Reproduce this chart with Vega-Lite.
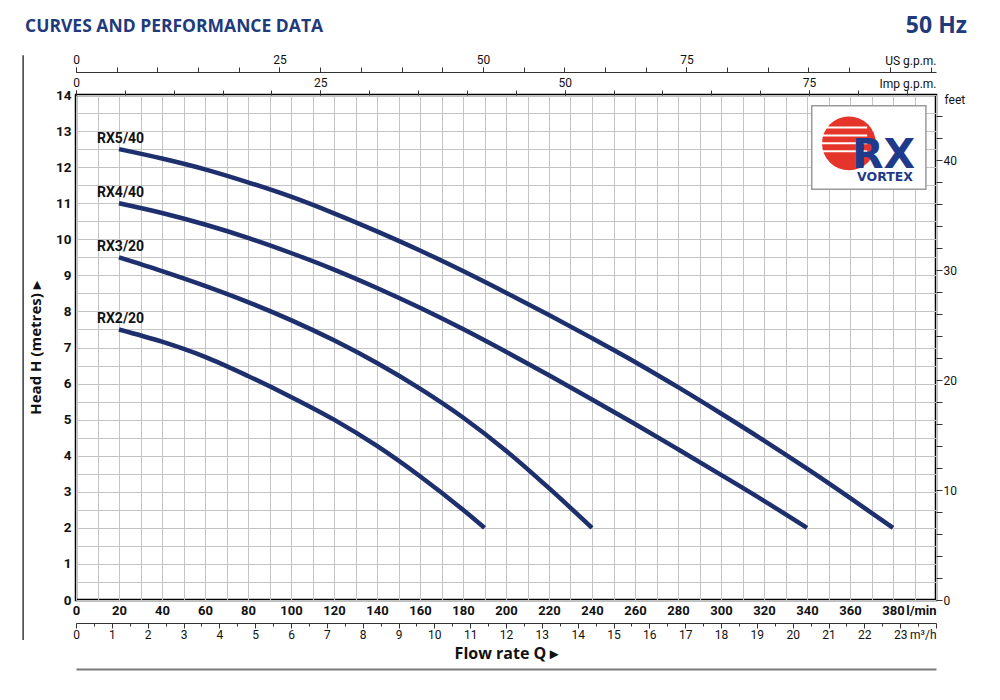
{
  "$schema": "https://vega.github.io/schema/vega-lite/v6.json",
  "width": 860,
  "height": 505,
  "autosize": {"type": "none"},
  "padding": {"left": 76, "top": 95, "right": 64, "bottom": 100},
  "background": "white",
  "config": {
    "view": {"stroke": "black", "strokeWidth": 2.5},
    "font": "Roboto",
    "axis": {"labelColor": "#111", "titleColor": "#111", "labelFont": "Roboto", "titleFont": "Open Sans"}
  },
  "datasets": {
    "curves": [
      {"model": "RX5/40", "Q": 20, "H": 12.5}, {"model": "RX5/40", "Q": 40, "H": 12.24}, {"model": "RX5/40", "Q": 60, "H": 11.94}, {"model": "RX5/40", "Q": 80, "H": 11.58}, {"model": "RX5/40", "Q": 100, "H": 11.18}, {"model": "RX5/40", "Q": 120, "H": 10.72}, {"model": "RX5/40", "Q": 140, "H": 10.22}, {"model": "RX5/40", "Q": 160, "H": 9.69}, {"model": "RX5/40", "Q": 180, "H": 9.12}, {"model": "RX5/40", "Q": 200, "H": 8.52}, {"model": "RX5/40", "Q": 220, "H": 7.9}, {"model": "RX5/40", "Q": 240, "H": 7.26}, {"model": "RX5/40", "Q": 260, "H": 6.6}, {"model": "RX5/40", "Q": 280, "H": 5.9}, {"model": "RX5/40", "Q": 300, "H": 5.17}, {"model": "RX5/40", "Q": 320, "H": 4.42}, {"model": "RX5/40", "Q": 340, "H": 3.64}, {"model": "RX5/40", "Q": 360, "H": 2.83}, {"model": "RX5/40", "Q": 380, "H": 2.0},
      {"model": "RX4/40", "Q": 20, "H": 11.0}, {"model": "RX4/40", "Q": 40, "H": 10.73}, {"model": "RX4/40", "Q": 60, "H": 10.41}, {"model": "RX4/40", "Q": 80, "H": 10.04}, {"model": "RX4/40", "Q": 100, "H": 9.62}, {"model": "RX4/40", "Q": 120, "H": 9.16}, {"model": "RX4/40", "Q": 140, "H": 8.65}, {"model": "RX4/40", "Q": 160, "H": 8.1}, {"model": "RX4/40", "Q": 180, "H": 7.51}, {"model": "RX4/40", "Q": 200, "H": 6.88}, {"model": "RX4/40", "Q": 220, "H": 6.23}, {"model": "RX4/40", "Q": 240, "H": 5.56}, {"model": "RX4/40", "Q": 260, "H": 4.88}, {"model": "RX4/40", "Q": 280, "H": 4.18}, {"model": "RX4/40", "Q": 300, "H": 3.47}, {"model": "RX4/40", "Q": 320, "H": 2.75}, {"model": "RX4/40", "Q": 340, "H": 2.0},
      {"model": "RX3/20", "Q": 20, "H": 9.5}, {"model": "RX3/20", "Q": 40, "H": 9.12}, {"model": "RX3/20", "Q": 60, "H": 8.71}, {"model": "RX3/20", "Q": 80, "H": 8.26}, {"model": "RX3/20", "Q": 100, "H": 7.76}, {"model": "RX3/20", "Q": 120, "H": 7.2}, {"model": "RX3/20", "Q": 140, "H": 6.57}, {"model": "RX3/20", "Q": 160, "H": 5.86}, {"model": "RX3/20", "Q": 180, "H": 5.06}, {"model": "RX3/20", "Q": 200, "H": 4.14}, {"model": "RX3/20", "Q": 220, "H": 3.1}, {"model": "RX3/20", "Q": 240, "H": 2.0},
      {"model": "RX2/20", "Q": 20, "H": 7.5}, {"model": "RX2/20", "Q": 40, "H": 7.16}, {"model": "RX2/20", "Q": 60, "H": 6.74}, {"model": "RX2/20", "Q": 80, "H": 6.21}, {"model": "RX2/20", "Q": 100, "H": 5.63}, {"model": "RX2/20", "Q": 120, "H": 5.0}, {"model": "RX2/20", "Q": 140, "H": 4.27}, {"model": "RX2/20", "Q": 160, "H": 3.43}, {"model": "RX2/20", "Q": 180, "H": 2.5}, {"model": "RX2/20", "Q": 190, "H": 2.0}
    ]
  },
  "layer": [
    {
      "data": {"values": [{}]},
      "mark": {"type": "point", "opacity": 0},
      "encoding": {
        "x": {"datum": 0, "type": "quantitative", "scale": {"domain": [0, 400], "nice": false, "zero": false},
          "axis": {"orient": "bottom", "values": [0,10,20,30,40,50,60,70,80,90,100,110,120,130,140,150,160,170,180,190,200,210,220,230,240,250,260,270,280,290,300,310,320,330,340,350,360,370,380,390,400],
            "grid": true, "gridColor": "#c4c4c4", "gridWidth": 1, "labels": false, "ticks": false, "domain": false, "title": null}
        }
      }
    },
    {
      "data": {"values": [{}]},
      "mark": {"type": "point", "opacity": 0},
      "encoding": {
        "y": {"datum": 0, "type": "quantitative", "scale": {"domain": [0, 14], "nice": false, "zero": false},
          "axis": {"orient": "left", "values": [0,0.5,1,1.5,2,2.5,3,3.5,4,4.5,5,5.5,6,6.5,7,7.5,8,8.5,9,9.5,10,10.5,11,11.5,12,12.5,13,13.5,14],
            "grid": true, "gridColor": "#c4c4c4", "gridWidth": 1, "labels": false, "ticks": false, "domain": false, "title": null}
        }
      }
    },
    {
      "data": {"name": "curves"},
      "encoding": {
        "x": {"field": "Q", "type": "quantitative", "scale": {"domain": [0, 400], "nice": false, "zero": false},
          "axis": {
            "orient": "bottom",
            "values": [0,20,40,60,80,100,120,140,160,180,200,220,240,260,280,300,320,340,360,380,400],
            "labelExpr": "datum.value == 400 ? 'l/min' : '' + datum.value",
            "labelAlign": {"condition": {"test": "datum.value == 400", "value": "right"}, "value": "center"},
            "ticks": false, "domain": false, "grid": false,
            "labelFontWeight": "bold", "labelFontSize": 13, "labelPadding": 4, "labelFlush": false, "labelOverlap": false,
            "title": null
          }
        },
        "y": {"field": "H", "type": "quantitative", "scale": {"domain": [0, 14], "nice": false},
          "axis": {
            "orient": "left",
            "values": [0,1,2,3,4,5,6,7,8,9,10,11,12,13,14],
            "ticks": false, "domain": false, "grid": false,
            "labelFontWeight": "bold", "labelFontSize": 13.5, "labelPadding": 5, "labelFlush": false, "labelOverlap": false,
            "title": "Head H (metres) ▸", "titleFontSize": 15, "titleFontWeight": "bold", "titlePadding": 12
          }
        }
      },
      "layer": [
        {
          "transform": [{"filter": "datum.Q == 20 && datum.model == 'RX5/40'"}],
          "mark": {"type": "rect", "fill": "white", "stroke": "#9a9a9a", "strokeWidth": 1.5},
          "encoding": {"x": {"datum": 342.2}, "x2": {"datum": 395.3}, "y": {"datum": 13.7}, "y2": {"datum": 11.39}}
        },
        {
          "transform": [{"filter": "datum.Q == 20 && datum.model == 'RX5/40'"}],
          "mark": {"type": "point", "shape": "circle", "filled": true, "color": "#e5352b", "opacity": 1, "size": 2900},
          "encoding": {"x": {"datum": 359.5}, "y": {"datum": 12.66}}
        },
        {
          "transform": [{"filter": "datum.Q == 20 && datum.model == 'RX5/40'"}],
          "mark": {"type": "rule", "color": "white", "strokeWidth": 2},
          "encoding": {"x": {"datum": 345.5}, "x2": {"datum": 368}, "y": {"datum": 13.1}}
        },
        {
          "transform": [{"filter": "datum.Q == 20 && datum.model == 'RX5/40'"}],
          "mark": {"type": "rule", "color": "white", "strokeWidth": 2},
          "encoding": {"x": {"datum": 345}, "x2": {"datum": 368}, "y": {"datum": 12.88}}
        },
        {
          "transform": [{"filter": "datum.Q == 20 && datum.model == 'RX5/40'"}],
          "mark": {"type": "rule", "color": "white", "strokeWidth": 2},
          "encoding": {"x": {"datum": 345}, "x2": {"datum": 368}, "y": {"datum": 12.66}}
        },
        {
          "transform": [{"filter": "datum.Q == 20 && datum.model == 'RX5/40'"}],
          "mark": {"type": "rule", "color": "white", "strokeWidth": 2},
          "encoding": {"x": {"datum": 345.5}, "x2": {"datum": 368}, "y": {"datum": 12.44}}
        },
        {
          "transform": [{"filter": "datum.Q == 20 && datum.model == 'RX5/40'"}],
          "mark": {"type": "text", "text": "RX", "font": "DejaVu Sans", "fontSize": 41, "fontWeight": "bold", "color": "#1f3a8a", "align": "center", "baseline": "middle"},
          "encoding": {"x": {"datum": 375.6}, "y": {"datum": 12.3}}
        },
        {
          "transform": [{"filter": "datum.Q == 20 && datum.model == 'RX5/40'"}],
          "mark": {"type": "text", "text": "VORTEX", "font": "DejaVu Sans", "fontSize": 12.5, "fontWeight": "bold", "color": "#1f3a8a", "align": "center", "baseline": "middle"},
          "encoding": {"x": {"datum": 376.3}, "y": {"datum": 11.72}}
        },
        {
          "mark": {"type": "line", "color": "#1e2f6e", "strokeWidth": 4.5, "interpolate": "monotone", "strokeCap": "butt"},
          "encoding": {"detail": {"field": "model"}}
        },
        {
          "transform": [{"filter": "datum.Q == 20"}],
          "mark": {"type": "text", "align": "left", "baseline": "middle", "dx": -22, "dy": -10.5, "font": "Roboto", "fontSize": 14, "fontWeight": "bold", "color": "#111"},
          "encoding": {"text": {"field": "model"}}
        },
        {
          "transform": [{"filter": "datum.Q == 20 && datum.model == 'RX5/40'"}],
          "mark": {"type": "text", "text": "CURVES AND PERFORMANCE DATA", "font": "Open Sans", "fontSize": 17.5, "fontWeight": "bold", "color": "#203a7c", "align": "left", "baseline": "middle"},
          "encoding": {"x": {"datum": -23.7}, "y": {"datum": 15.89}}
        },
        {
          "transform": [{"filter": "datum.Q == 20 && datum.model == 'RX5/40'"}],
          "mark": {"type": "text", "text": "50 Hz", "font": "Open Sans", "fontSize": 23, "fontWeight": "bold", "color": "#203a7c", "align": "right", "baseline": "middle"},
          "encoding": {"x": {"datum": 414.4}, "y": {"datum": 15.92}}
        },
        {
          "transform": [{"filter": "datum.Q == 20 && datum.model == 'RX5/40'"}],
          "mark": {"type": "rule", "color": "#444", "strokeWidth": 1.6},
          "encoding": {"x": {"datum": -24.6}, "y": {"datum": 15.1}, "y2": {"datum": -1.11}}
        }
      ]
    },
    {
      "data": {"values": [{}]},
      "mark": {"type": "point", "opacity": 0},
      "encoding": {
        "x": {"datum": 0, "type": "quantitative", "scale": {"domain": [0, 87.988], "nice": false, "zero": false},
          "axis": {"orient": "top", "offset": 0, "values": [0,5,10,15,20,25,30,35,40,45,50,55,60,65,70,75,80,85],
            "labels": false, "tickSize": 5, "tickColor": "#333", "tickWidth": 1, "domain": false, "grid": false, "title": null}
        }
      }
    },
    {
      "data": {"values": [{}]},
      "mark": {"type": "point", "opacity": 0},
      "encoding": {
        "x": {"datum": 0, "type": "quantitative", "scale": {"domain": [0, 87.988], "nice": false, "zero": false},
          "axis": {"orient": "top", "offset": 0, "values": [0,25,50,75],
            "tickSize": 5, "tickColor": "#333", "tickWidth": 1,
            "domain": false, "grid": false, "labelFontSize": 12, "labelPadding": 1, "labelFlush": false, "labelOverlap": false,
            "title": "Imp g.p.m.", "titleX": 860, "titleY": -12, "titleAlign": "right", "titleBaseline": "middle", "titleAngle": 0,
            "titleFontWeight": "normal", "titleFontSize": 12, "titleFont": "Roboto"}
        }
      }
    },
    {
      "data": {"values": [{}]},
      "mark": {"type": "point", "opacity": 0},
      "encoding": {
        "x": {"datum": 0, "type": "quantitative", "scale": {"domain": [0, 105.669], "nice": false, "zero": false},
          "axis": {"orient": "top", "offset": 23, "values": [0,5,10,15,20,25,30,35,40,45,50,55,60,65,70,75,80,85,90,95,100,105],
            "labels": false, "tickSize": 5, "tickColor": "#333", "tickWidth": 1, "domain": false, "grid": false, "title": null}
        }
      }
    },
    {
      "data": {"values": [{}]},
      "mark": {"type": "point", "opacity": 0},
      "encoding": {
        "x": {"datum": 0, "type": "quantitative", "scale": {"domain": [0, 105.669], "nice": false, "zero": false},
          "axis": {"orient": "top", "offset": 23, "values": [0,25,50,75],
            "tickSize": 5, "tickColor": "#333", "tickWidth": 1,
            "domain": true, "domainColor": "#333", "domainWidth": 1, "grid": false, "labelFontSize": 12, "labelPadding": 1, "labelFlush": false, "labelOverlap": false,
            "title": "US g.p.m.", "titleX": 860, "titleY": -12, "titleAlign": "right", "titleBaseline": "middle", "titleAngle": 0,
            "titleFontWeight": "normal", "titleFontSize": 12, "titleFont": "Roboto"}
        }
      }
    },
    {
      "data": {"values": [{}]},
      "mark": {"type": "point", "opacity": 0},
      "encoding": {
        "x": {"datum": 0, "type": "quantitative", "scale": {"domain": [0, 24], "nice": false, "zero": false},
          "axis": {"orient": "bottom", "offset": 23, "values": [0.5,1.5,2.5,3.5,4.5,5.5,6.5,7.5,8.5,9.5,10.5,11.5,12.5,13.5,14.5,15.5,16.5,17.5,18.5,19.5,20.5,21.5,22.5,23.5],
            "labels": false, "tickSize": 3, "tickColor": "#333", "tickWidth": 1, "domain": false, "grid": false, "title": null}
        }
      }
    },
    {
      "data": {"values": [{}]},
      "mark": {"type": "point", "opacity": 0},
      "encoding": {
        "x": {"datum": 0, "type": "quantitative", "scale": {"domain": [0, 24], "nice": false, "zero": false},
          "axis": {"orient": "bottom", "offset": 23, "values": [0,1,2,3,4,5,6,7,8,9,10,11,12,13,14,15,16,17,18,19,20,21,22,23,24],
            "labelExpr": "datum.value == 24 ? 'm³/h' : '' + datum.value",
            "labelAlign": {"condition": {"test": "datum.value == 24", "value": "right"}, "value": "center"},
            "tickSize": 5, "tickColor": "#333", "tickWidth": 1,
            "domain": true, "domainColor": "#333", "domainWidth": 1, "grid": false, "labelFontSize": 12, "labelPadding": 1, "labelFlush": false, "labelOverlap": false,
            "title": "Flow rate Q ▸", "titleFontSize": 16, "titleFontWeight": "bold", "titlePadding": 5}
        }
      }
    },
    {
      "data": {"values": [{}]},
      "mark": {"type": "point", "opacity": 0},
      "encoding": {
        "x": {"datum": 0, "type": "quantitative", "scale": {"domain": [0, 1], "nice": false},
          "axis": {"orient": "bottom", "offset": 69, "domain": true, "domainColor": "#7a7a7a", "domainWidth": 2, "ticks": false, "labels": false, "grid": false, "title": null}
        }
      }
    },
    {
      "data": {"values": [{}]},
      "mark": {"type": "point", "opacity": 0},
      "encoding": {
        "y": {"datum": 0, "type": "quantitative", "scale": {"domain": [0, 45.932], "nice": false, "zero": false},
          "axis": {"orient": "right", "values": [2,4,6,8,12,14,16,18,22,24,26,28,32,34,36,38,42,44],
            "labels": false, "tickSize": 6, "tickColor": "#333", "tickWidth": 1, "domain": false, "grid": false, "title": null}
        }
      }
    },
    {
      "data": {"values": [{}]},
      "mark": {"type": "point", "opacity": 0},
      "encoding": {
        "y": {"datum": 0, "type": "quantitative", "scale": {"domain": [0, 45.932], "nice": false, "zero": false},
          "axis": {"orient": "right", "values": [0,10,20,30,40],
            "tickSize": 6, "tickColor": "#333", "tickWidth": 1,
            "domain": false, "grid": false, "labelFontSize": 12, "labelPadding": 1, "labelFlush": false, "labelOverlap": false,
            "title": "feet", "titleX": 8, "titleY": 4, "titleAlign": "left", "titleBaseline": "middle", "titleAngle": 0,
            "titleFontWeight": "normal", "titleFontSize": 12, "titleFont": "Roboto"}
        }
      }
    }
  ],
  "resolve": {"scale": {"x": "independent", "y": "independent"}, "axis": {"x": "independent", "y": "independent"}}
}
